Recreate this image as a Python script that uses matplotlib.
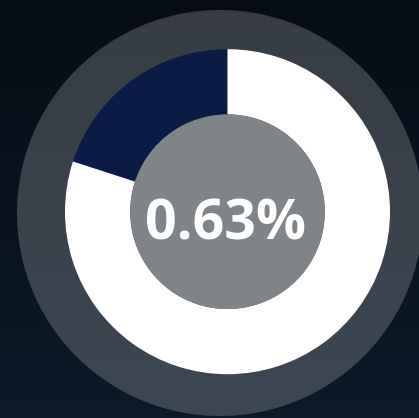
import matplotlib
matplotlib.use("Agg")
import matplotlib.pyplot as plt
import numpy as np
from matplotlib.patches import Circle
from matplotlib.colors import LinearSegmentedColormap

# Data
labels = ["achieved", "remaining"]
values = [20, 80]
colors = ["#0a1c46", "#ffffff"]
center_label = "0.63%"

W, H = 419, 418
fig = plt.figure(figsize=(W / 100, H / 100), dpi=100)
ax = fig.add_axes([0, 0, 1, 1])

# background gradient
cmap = LinearSegmentedColormap.from_list("bg", ["#060c15", "#0c1a29"])
grad = np.linspace(0, 1, 256).reshape(-1, 1)
ax.imshow(grad, cmap=cmap, extent=[0, W, H, 0], aspect="auto", zorder=0)

# outer translucent disc
ax.add_patch(Circle((220, 213), 203, facecolor="white", alpha=0.2,
                    edgecolor="none", zorder=1))

# donut (y axis is inverted, so angles are mirrored)
cx, cy = 227.5, 211.7
ax.pie(values, colors=colors, startangle=-90, counterclock=False,
       center=(cx, cy), radius=162.5,
       wedgeprops=dict(width=162.5 - 97.3, edgecolor="none", linewidth=0),
       frame=True)
ax.set_xlim(0, W)
ax.set_ylim(H, 0)
ax.axis("off")

# inner disc
ax.add_patch(Circle((cx, cy), 97.3, facecolor="#7f8489", edgecolor="none", zorder=3))

ax.text(cx - 2.5, cy + 28, center_label, ha="center", va="baseline", color="white",
        fontsize=40, fontweight="bold", family=["Open Sans", "DejaVu Sans"], zorder=4)

fig.savefig("out.png", dpi=100)
